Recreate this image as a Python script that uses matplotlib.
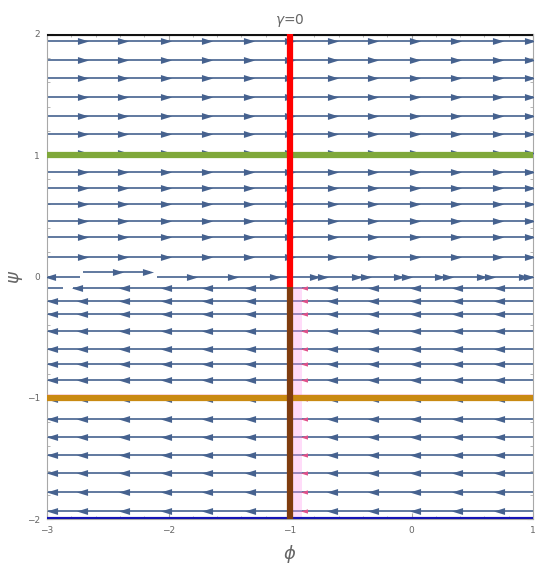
import numpy as np
import matplotlib.pyplot as plt
from matplotlib.path import Path

# rows of streamlines (psi values)
upper_psi = [1.943, 1.789, 1.635, 1.481, 1.327, 1.173, 1.02, 0.863, 0.731, 0.602, 0.459, 0.322, 0.159]
lower_psi = [-0.198, -0.313, -0.451, -0.594, -0.725, -0.857, -1.01, -1.173, -1.323, -1.476, -1.624, -1.781, -1.935]

# arrowhead positions along the rows (phi values)
right_arrows = [-2.706, -2.371, -2.022, -1.680, -1.339, -0.998, -0.650, -0.317, 0.031, 0.363, 0.709, 0.979]
left_arrows = [-2.96, -2.709, -2.366, -2.022, -1.680, -1.328, -0.657, -0.314, 0.031, 0.375, 0.717]

# the broken rows near psi = 0
zero_left = [-3.0, -2.73]
zero_left_arrows = [-2.975]
zero_mid = [-2.70, -2.15]
zero_mid_psi = 0.037
zero_mid_arrows = [-2.415, -2.168]
zero_right = [-2.094, 1.0]
zero_right_arrows = [-1.808, -1.468, -1.122, -0.792, -0.727, -0.446, -0.372, -0.100,
                     -0.035, 0.237, 0.303, 0.583, 0.649, 0.929, 0.970]
near_psi = -0.096
near_short = [-2.99, -2.87]
near_long = [-2.79, 1.0]
near_arrows = [-2.75, -2.366, -2.022, -1.680, -1.328, -0.657, -0.314, 0.031, 0.375, 0.717]

# special curves
phi_line = -1.0
psi_split = -0.09
band_right = -0.9
h_lines = {2.0: '#111111', 1.0: '#7fa83a', -1.0: '#c98a12', -2.0: '#1414b4'}

stream_col = '#46628f'
grey = '#666666'

# arrowhead markers
head_r = Path([(-1, -0.62), (1, 0), (-1, 0.62), (-1, -0.62)],
              [Path.MOVETO, Path.LINETO, Path.LINETO, Path.CLOSEPOLY])
head_l = Path([(1, -0.62), (-1, 0), (1, 0.62), (1, -0.62)],
              [Path.MOVETO, Path.LINETO, Path.LINETO, Path.CLOSEPOLY])
ms = 8

fig = plt.figure(figsize=(5.5, 5.73), dpi=100)
ax = fig.add_axes([0.0855, 0.0942, 0.8836, 0.8465])
ax.set_xlim(-3, 1)
ax.set_ylim(-2, 2)


def row(xs, p, heads, marker):
    ax.plot(xs, [p, p], color=stream_col, lw=1.2, zorder=2, solid_capstyle='butt')
    ax.plot(heads, [p] * len(heads), ls='none', marker=marker, ms=ms,
            color=stream_col, mew=0, zorder=3)


for p in upper_psi:
    row([-3, 1], p, right_arrows, head_r)
for p in lower_psi:
    row([-3, 1], p, left_arrows, head_l)
    ax.plot([band_right + 0.015], [p], ls='none', marker=head_l, ms=5,
            color='#e0508a', mew=0, zorder=4)

row(zero_left, 0.0, zero_left_arrows, head_l)
row(zero_mid, zero_mid_psi, zero_mid_arrows, head_r)
row(zero_right, 0.0, zero_right_arrows, head_r)
row(near_short, near_psi, [], head_l)
row(near_long, near_psi, near_arrows, head_l)
ax.plot([band_right + 0.015], [near_psi], ls='none', marker=head_l, ms=5,
        color='#e0508a', mew=0, zorder=4)

# pink region
ax.fill_between([phi_line, band_right], -2, psi_split, color='#ff9cf0', alpha=0.35,
                lw=0, zorder=3.5)
ax.fill_between([-3, 1], -1.03, -0.97, color='#ff9cf0', alpha=0.3, lw=0, zorder=3.5)

# horizontal lines
for p, c in h_lines.items():
    w = 4.5 if abs(p) == 1 else 3
    ax.axhline(p, color=c, lw=w, zorder=5, solid_capstyle='butt')

# vertical line phi = -1
ax.plot([phi_line, phi_line], [psi_split, 2], color='#ff0000', lw=4.5, zorder=6,
        solid_capstyle='butt')
ax.plot([phi_line, phi_line], [-2, psi_split], color='#7f3c0e', lw=4.5, zorder=6,
        solid_capstyle='butt')

# frame
for s in ax.spines.values():
    s.set_color('#a8a8a8')
    s.set_linewidth(0.8)
ax.set_xticks([-3, -2, -1, 0, 1])
ax.set_yticks([-2, -1, 0, 1, 2])
ax.set_xticks(np.arange(-3, 1.01, 0.2), minor=True)
ax.set_yticks(np.arange(-2, 2.01, 0.2), minor=True)
ax.tick_params(which='both', direction='in', colors='#a8a8a8', labelcolor=grey,
               top=True, right=True, labelsize=6.5)
ax.tick_params(which='major', length=4, pad=5)
ax.tick_params(which='minor', length=2)
ax.set_xticklabels(['\u22123', '\u22122', '\u22121', '0', '1'])
ax.set_yticklabels(['\u22122', '\u22121', '0', '1', '2'])

ax.set_xlabel(r'$\phi$', fontsize=13, color=grey, labelpad=6)
ax.set_ylabel(r'$\psi$', fontsize=13, color=grey, labelpad=1)
ax.set_title(r'$\gamma$=0', fontsize=10, color=grey, pad=7)

fig.savefig('out.png', dpi=100)
